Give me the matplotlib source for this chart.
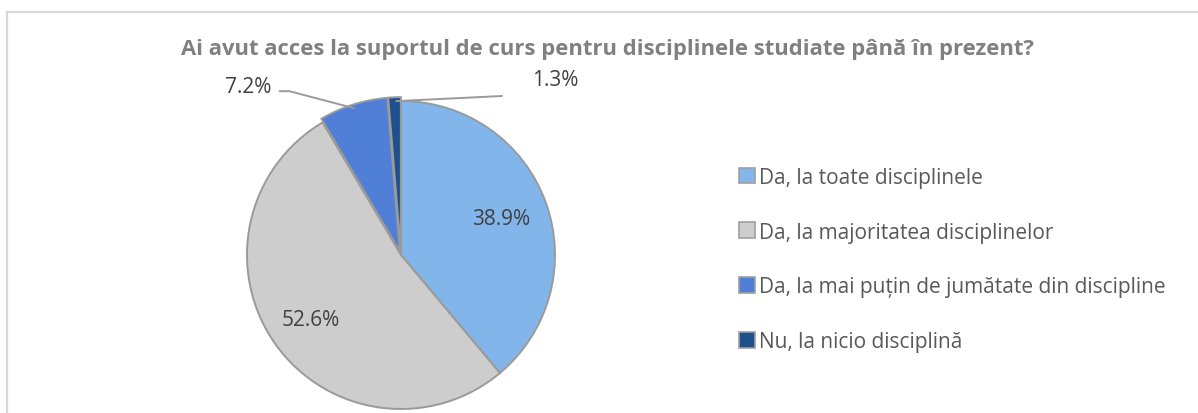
"""Pie chart: access to course materials
"""
import numpy as np
import matplotlib
matplotlib.use('Agg')
import matplotlib.pyplot as plt
from matplotlib.patches import Rectangle

plt.rcParams['font.family'] = ['Open Sans', 'DejaVu Sans']

title = 'Ai avut acces la suportul de curs pentru disciplinele studiate până în prezent?'
labels = ['Da, la toate disciplinele',
          'Da, la majoritatea disciplinelor',
          'Da, la mai puțin de jumătate din discipline',
          'Nu, la nicio disciplină']
values = [38.9, 52.6, 7.2, 1.3]
colors = ['#82b6ea', '#cdcdcd', '#4f7fd6', '#1f4f8c']

W, H = 1198, 414
fig = plt.figure(figsize=(W / 100, H / 100), dpi=100)

# light frame, open at the bottom/right like the source crop
fig.add_artist(plt.Line2D([7 / W, 7 / W], [0, 1 - 13 / H], color='#d9d9d9', lw=1.6))
fig.add_artist(plt.Line2D([7 / W, 1], [1 - 13 / H, 1 - 13 / H], color='#d9d9d9', lw=1.6))

fig.text(607 / W, 1 - 49 / H, title, ha='center', va='center',
         fontsize=15.8, fontweight='bold', color='#808080')

# pie axes: centre (401, 256) px, radius 154 px
cx, cy, r = 401, 256, 154
ax = fig.add_axes([(cx - r) / W, (H - cy - r) / H, 2 * r / W, 2 * r / H])
wedges, _ = ax.pie(values, colors=colors, startangle=90, counterclock=False,
                   explode=[0, 0, 0.025, 0.025], radius=1,
                   wedgeprops=dict(edgecolor='#9a9a9a', linewidth=1.4))
ax.set_xlim(-1.0, 1.0)
ax.set_ylim(-1.0, 1.0)
ax.set_aspect('equal')
ax.axis('off')

def mid(w):
    return np.deg2rad((w.theta1 + w.theta2) / 2)

# inside labels
for w, v, d in [(wedges[0], values[0], 0.69), (wedges[1], values[1], 0.72)]:
    a = mid(w)
    ax.text(d * np.cos(a), d * np.sin(a), f'{v:.1f}%', ha='center', va='center',
            fontsize=15, color='#404040')

# outside labels with leader lines
a = mid(wedges[2])
ax.annotate(f'{values[2]:.1f}%', xy=(np.cos(a), np.sin(a)), xycoords='data',
            xytext=(248, H - 88), textcoords='figure pixels',
            ha='center', va='center', fontsize=15, color='#404040',
            arrowprops=dict(arrowstyle='-', color='#9a9a9a', lw=1.4,
                            connectionstyle='angle,angleA=0,angleB=-14.7,rad=0',
                            relpos=(1.0, 0.3), shrinkA=4, shrinkB=0))
a = mid(wedges[3])
fig.text(555 / W, 1 - 80 / H, f'{values[3]:.1f}%', ha='center', va='center',
         fontsize=15, color='#404040')
ax.annotate('', xy=(np.cos(a) + 0.01, np.sin(a)), xycoords='data',
            xytext=(502, H - 97), textcoords='figure pixels',
            arrowprops=dict(arrowstyle='-', color='#9a9a9a', lw=1.4,
                            shrinkA=0, shrinkB=0))

handles = [Rectangle((0, 0), 1, 1, facecolor=c, edgecolor='#a0a0a0', lw=1.2) for c in colors]
fig.legend(handles, labels, loc='upper left', bbox_to_anchor=(720 / W, 1 - 149 / H),
           frameon=False, fontsize=15, labelspacing=1.62, handlelength=0.8,
           handleheight=0.8, handletextpad=0.15, labelcolor='#595959')

fig.savefig('out.png', dpi=100)
